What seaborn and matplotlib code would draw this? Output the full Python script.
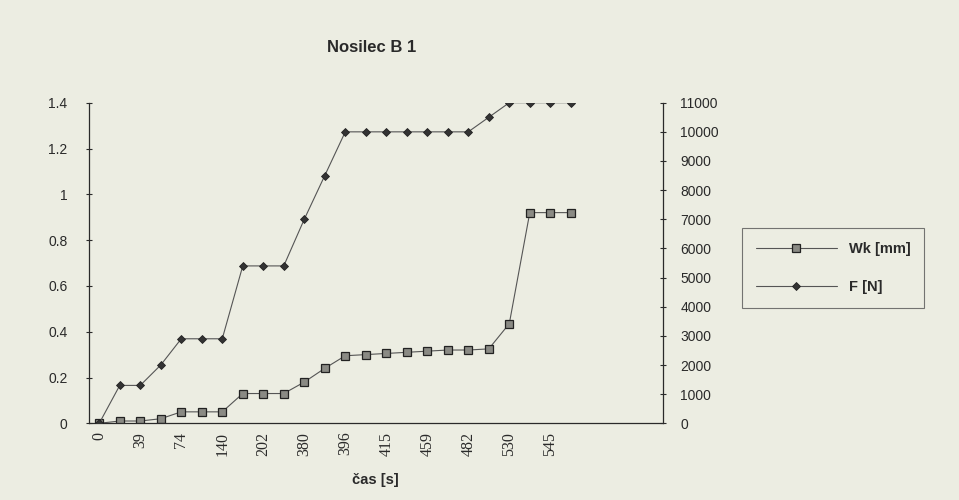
import numpy as np
import pandas as pd
import matplotlib
matplotlib.use("Agg")
import matplotlib.pyplot as plt
import seaborn as sns

# ---- data ----
tick_labels = ["0", "39", "74", "140", "202", "380", "396", "415", "459", "482", "530", "545"]
wk_mm = [0.0, 0.01, 0.01, 0.02, 0.05, 0.05, 0.05, 0.13, 0.13, 0.13, 0.18, 0.24,
         0.295, 0.30, 0.305, 0.31, 0.315, 0.32, 0.32, 0.325, 0.435, 0.92, 0.92, 0.92]
f_n = [0, 1300, 1300, 2000, 2900, 2900, 2900, 5400, 5400, 5400, 7000, 8500,
       10000, 10000, 10000, 10000, 10000, 10000, 10000, 10500, 11000, 11000, 11000, 11000]
n_categories = 28

bg = "#ecede2"
ink = "#2a2a2a"

sns.set_theme(style="white")
plt.rcParams["font.family"] = ["Liberation Sans", "DejaVu Sans"]

fig = plt.figure(figsize=(9.59, 5.0), dpi=100, facecolor=bg)
ax = fig.add_axes([0.0928, 0.1534, 0.5986, 0.6412])
ax.set_facecolor("none")
ax2 = ax.twinx()
ax2.set_facecolor("none")

idx = np.arange(len(wk_mm))
df = pd.DataFrame({"i": idx, "wk": wk_mm, "f": f_n})

sns.lineplot(data=df, x="i", y="wk", ax=ax, color="#555555", linewidth=0.8,
             marker="s", markersize=6.2, markerfacecolor="#8a8a84",
             markeredgecolor="#222222", markeredgewidth=0.9, label="Wk [mm]", legend=False)
sns.lineplot(data=df, x="i", y="f", ax=ax2, color="#555555", linewidth=0.8,
             marker="D", markersize=4.3, markerfacecolor="#333333",
             markeredgecolor="#222222", markeredgewidth=0.6, label="F [N]", legend=False)

# x axis: categories, ticks between categories, labels every other category
ax.set_xlim(-0.5, n_categories - 0.5)
ax.set_xticks(np.arange(-0.5, n_categories, 1.0))
ax.set_xticklabels([])
ax.set_xticks(np.arange(0, 2 * len(tick_labels), 2), minor=True)
ax.set_xticklabels(tick_labels, minor=True, rotation=90, fontsize=11.5,
                   family=["Liberation Serif", "DejaVu Serif"], color=ink)
ax.tick_params(axis="x", which="major", direction="inout", length=5, width=0.8, color=ink)
ax.tick_params(axis="x", which="minor", length=0, pad=6)

ax.set_ylim(0, 1.4)
ax.set_yticks(np.arange(0, 1.41, 0.2))
ax.set_yticklabels(["0", "0.2", "0.4", "0.6", "0.8", "1", "1.2", "1.4"])
ax.tick_params(axis="y", direction="inout", length=5, width=0.8, color=ink,
               labelsize=10, labelcolor=ink, pad=13)

ax2.set_ylim(0, 11000)
ax2.set_yticks(np.arange(0, 11001, 1000))
ax2.set_yticklabels([str(v) for v in range(0, 11001, 1000)])
ax2.tick_params(axis="y", direction="inout", length=5, width=0.8, color=ink,
                labelsize=10, labelcolor=ink, pad=10)

for a in (ax, ax2):
    a.set_xlabel("")
    a.set_ylabel("")
    a.spines["top"].set_visible(False)
    for s in ("left", "right", "bottom"):
        a.spines[s].set_color(ink)
        a.spines[s].set_linewidth(0.9)
ax.spines["right"].set_visible(False)
ax2.spines["left"].set_visible(False)
ax2.spines["bottom"].set_visible(False)

fig.text(0.3911, 0.040, "čas [s]", ha="center", va="center", fontsize=10.5,
         fontweight="bold", color=ink)
fig.text(0.388, 0.906, "Nosilec B 1", ha="center", va="center", fontsize=12,
         fontweight="bold", color=ink)

h1, l1 = ax.get_legend_handles_labels()
h2, l2 = ax2.get_legend_handles_labels()
leg = fig.legend(h1 + h2, l1 + l2, loc="upper left", bbox_to_anchor=(0.7734, 0.544),
                 frameon=True, fancybox=False, fontsize=10.5, handlelength=5.6,
                 labelspacing=1.65, borderpad=0.95, handletextpad=0.8, borderaxespad=0)
leg.get_frame().set_edgecolor("#555555")
leg.get_frame().set_linewidth(0.8)
leg.get_frame().set_facecolor(bg)
for t in leg.get_texts():
    t.set_fontweight("bold")
    t.set_color(ink)

fig.savefig("out.png", dpi=100, facecolor=bg)
